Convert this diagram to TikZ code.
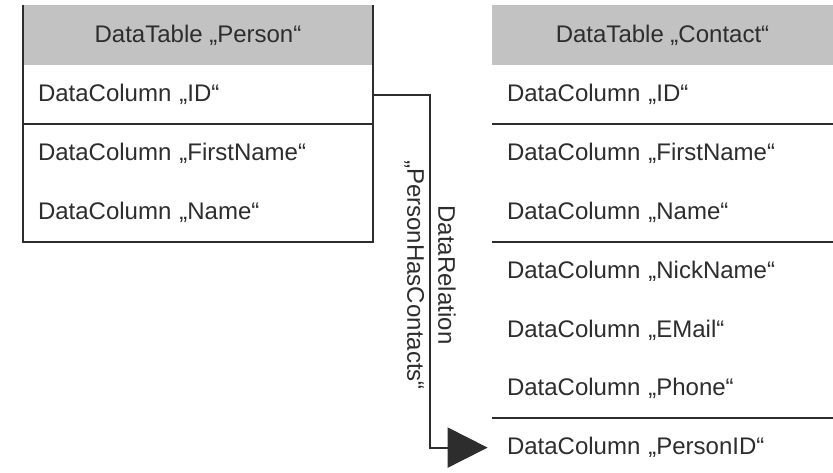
\documentclass[tikz,border=0pt]{standalone}
\usepackage{fontspec}
\setmainfont{Liberation Sans}
\usetikzlibrary{positioning,arrows.meta}
\definecolor{hdrgray}{RGB}{194,194,194}
\definecolor{inkgray}{RGB}{45,45,45}
\tikzset{
  tblhead/.style={fill=hdrgray, minimum width=#1, minimum height=30pt, inner sep=0pt},
  tblrow/.style={text width=#1, inner xsep=7.5pt, inner ysep=0pt, minimum height=29pt, align=left},
  tblline/.style={draw=inkgray, line width=1pt},
  relline/.style={draw=inkgray, line width=1pt, -{Triangle[length=20pt,width=20pt]}, shorten >=2pt},
  rellabel/.style={align=center, inner sep=0pt}
}
\begin{document}
\begin{tikzpicture}[x=0.5pt, y=-0.5pt, font=\fontsize{12}{15.5}\selectfont, text=inkgray]
        \useasboundingbox[fill=white] (0,0) rectangle (833,472);
        \node[tblhead=175pt] (hdrL) at (198,35) {DataTable „Person“};
        \foreach \n/\t [remember=\n as \p (initially hdrL)] in {idL/ID,firstL/FirstName,nameL/Name}
            \node[tblrow=160pt, below=0pt of \p] (\n) {DataColumn „\t“};
        \draw[tblline] (hdrL.north west) -- (nameL.south west) -- (nameL.south east) -- (hdrL.north east);
        \draw[tblline] (idL.south west) -- (idL.south east);
        \node[tblhead=170.5pt] (hdrR) at (662.5,35) {DataTable „Contact“};
        \foreach \n/\t [remember=\n as \p (initially hdrR)] in {idR/ID,firstR/FirstName,nameR/Name,nickR/NickName,mailR/EMail,phoneR/Phone,pidR/PersonID}
            \node[tblrow=155.5pt, below=0pt of \p] (\n) {DataColumn „\t“};
        \foreach \n in {idR,nameR,phoneR} \draw[tblline] (\n.south west) -- (\n.south east);
        \coordinate (relx) at (430,0);
        \draw[relline] (idL.east) -| (relx |- pidR.west) -- (pidR.west);
        \node[rellabel, rotate=-90] (relname) at (430,275) {DataRelation\\„PersonHasContacts“};
    \end{tikzpicture}
\end{document}
